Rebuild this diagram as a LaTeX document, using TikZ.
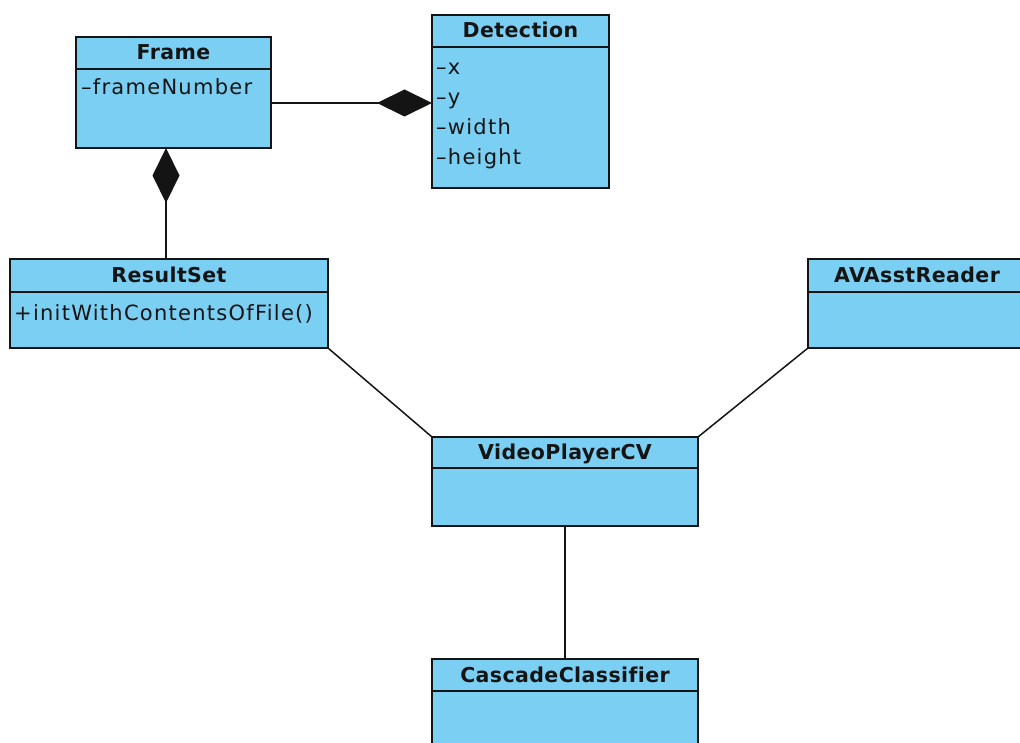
\documentclass[tikz,border=0pt]{standalone}
\usepackage{fontspec}
\setmainfont{DejaVu Sans}
\newfontfamily\umlfont[LetterSpace=6,Ligatures=NoCommon]{DejaVu Sans}
\newfontfamily\umlbold[LetterSpace=2,Ligatures=NoCommon]{DejaVu Sans Bold}
\usetikzlibrary{arrows.meta}
\definecolor{classfill}{RGB}{122,207,243}
\definecolor{inkc}{RGB}{20,20,20}
\begin{document}
\begin{tikzpicture}[x=1pt,y=-1pt,
  cls/.style={draw=inkc, fill=classfill, line width=1.6pt, rectangle,
    anchor=north west, inner sep=0pt, outer sep=0pt},
  sep/.style={draw=inkc, line width=1.6pt},
  ctitle/.style={font=\fontsize{20.5}{24}\umlbold, text=inkc, inner sep=0pt, anchor=base},
  attr/.style={font=\fontsize{21}{25}\umlfont, text=inkc, anchor=base west, inner sep=0pt},
  link/.style={draw=inkc, line width=1.5pt},
  comp/.style={draw=inkc, line width=1.5pt,
    -{Diamond[length=55pt,width=27pt,fill=inkc]}}]

\useasboundingbox (0,0) rectangle (1020,743);
\clip (0,0) rectangle (1020,743);

% class boxes
\node[cls, minimum width=195pt, minimum height=111pt] (frame) at (76,37) {};
\node[cls, minimum width=177pt, minimum height=173pt] (detection) at (432,15) {};
\node[cls, minimum width=318pt, minimum height=89pt] (resultset) at (10,259) {};
\node[cls, minimum width=218pt, minimum height=89pt] (avreader) at (808,259) {};
\node[cls, minimum width=266pt, minimum height=89pt] (video) at (432,437) {};
\node[cls, minimum width=266pt, minimum height=110pt] (cascade) at (432,659) {};

% compartment separators
\draw[sep] ([yshift=-32pt]frame.north west) -- ([yshift=-32pt]frame.north east);
\draw[sep] ([yshift=-32pt]detection.north west) -- ([yshift=-32pt]detection.north east);
\draw[sep] ([yshift=-33pt]resultset.north west) -- ([yshift=-33pt]resultset.north east);
\draw[sep] ([yshift=-33pt]avreader.north west) -- ([yshift=-33pt]avreader.north east);
\draw[sep] ([yshift=-31pt]video.north west) -- ([yshift=-31pt]video.north east);
\draw[sep] ([yshift=-32pt]cascade.north west) -- ([yshift=-32pt]cascade.north east);

% class names (baselines)
\node[ctitle] (frameT) at ([yshift=-23pt]frame.north) {Frame};
\node[ctitle] (detectionT) at ([yshift=-23pt]detection.north) {Detection};
\node[ctitle] (resultsetT) at ([yshift=-23.5pt]resultset.north) {ResultSet};
\node[ctitle] (avreaderT) at ([yshift=-23.5pt]avreader.north) {AVAsstReader};
\node[ctitle] (videoT) at ([yshift=-22.5pt]video.north) {VideoPlayerCV};
\node[ctitle] (cascadeT) at ([yshift=-23pt]cascade.north) {CascadeClassifier};

% attributes and operations (baselines)
\node[attr] (fa1) at ([xshift=5pt,yshift=-58pt]frame.north west) {–frameNumber};
\node[attr] (da1) at ([xshift=4pt,yshift=-60pt]detection.north west) {–x};
\node[attr] (da2) at ([xshift=4pt,yshift=-90pt]detection.north west) {–y};
\node[attr] (da3) at ([xshift=4pt,yshift=-120pt]detection.north west) {–width};
\node[attr] (da4) at ([xshift=4pt,yshift=-150pt]detection.north west) {–height};
\node[attr] (ro1) at ([xshift=4pt,yshift=-61pt]resultset.north west) {+initWithContentsOfFile()};

% connectors
\coordinate (compY) at (0,103);
\coordinate (compX) at (166,0);
\draw[comp] (frame.east |- compY) -- (detection.west |- compY);
\draw[comp] (resultset.north -| compX) -- (frame.south -| compX);
\draw[link] (resultset.south east) -- (video.north west);
\draw[link] (avreader.south west) -- (video.north east);
\draw[link] (video.south) -- (cascade.north);
\end{tikzpicture}
\end{document}
